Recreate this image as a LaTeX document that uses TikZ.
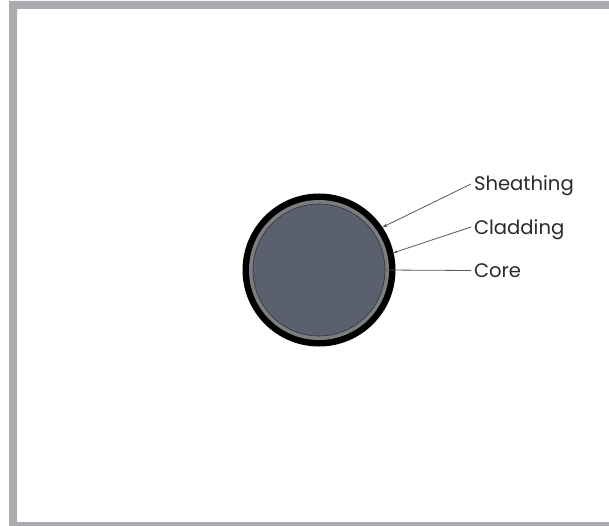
\documentclass[tikz,border=0pt]{standalone}
\usepackage{fontspec}
\setmainfont{Poppins}
\usepackage{xcolor}
\usetikzlibrary{arrows.meta, positioning}
\definecolor{framegray}{HTML}{ABACAF}
\definecolor{coreblue}{HTML}{5A606E}
\definecolor{claddinggray}{HTML}{7C7D80}
\definecolor{labelink}{HTML}{2A2A2A}
\tikzset{
    x=1pt, y=-1pt,
    layer/.style={circle, inner sep=0pt, outer sep=0pt},
    partlabel/.style={anchor=west, inner sep=0pt, outer sep=3pt, text height=14pt, text depth=0pt, text=labelink, font=\fontsize{19.6}{21}\selectfont},
    leader/.style={draw=black!65, line width=0.8pt},
}

\begin{document}
\begin{tikzpicture}
    \useasboundingbox (0,0) rectangle (609,526);
    % outer frame
    \fill[framegray, even odd rule] (9,1) rectangle (609,522.5) (17,9) rectangle (609.5,522);
    \fill[framegray] (9,522) rectangle (609,526);

    % cable cross section
    \node[layer, fill=black, minimum size=153pt] (sheath) at (319,270) {};
    \node[layer, fill=claddinggray, minimum size=140pt] (cladding) at (319,270) {};
    \node[layer, fill=coreblue, draw=black!80, line width=0.6pt, minimum size=132pt] (core) at (319,270) {};

    % labels
    \node[partlabel] (sheathing) at (471,184) {Sheathing};
    \node[partlabel] (claddinglabel) at (471,227) {Cladding};
    \node[partlabel] (corelabel) at (471,270.5) {Core};

    % leaders
    \draw[leader, -{Stealth[length=5pt, width=3.5pt]}] (sheathing.west) -- (sheath.34.5);
    \draw[leader, -{Stealth[length=4pt, width=3pt]}] (claddinglabel.west) -- (sheath.13.5);
    \draw[leader] (corelabel.west) -- (core.east);
\end{tikzpicture}
\end{document}
